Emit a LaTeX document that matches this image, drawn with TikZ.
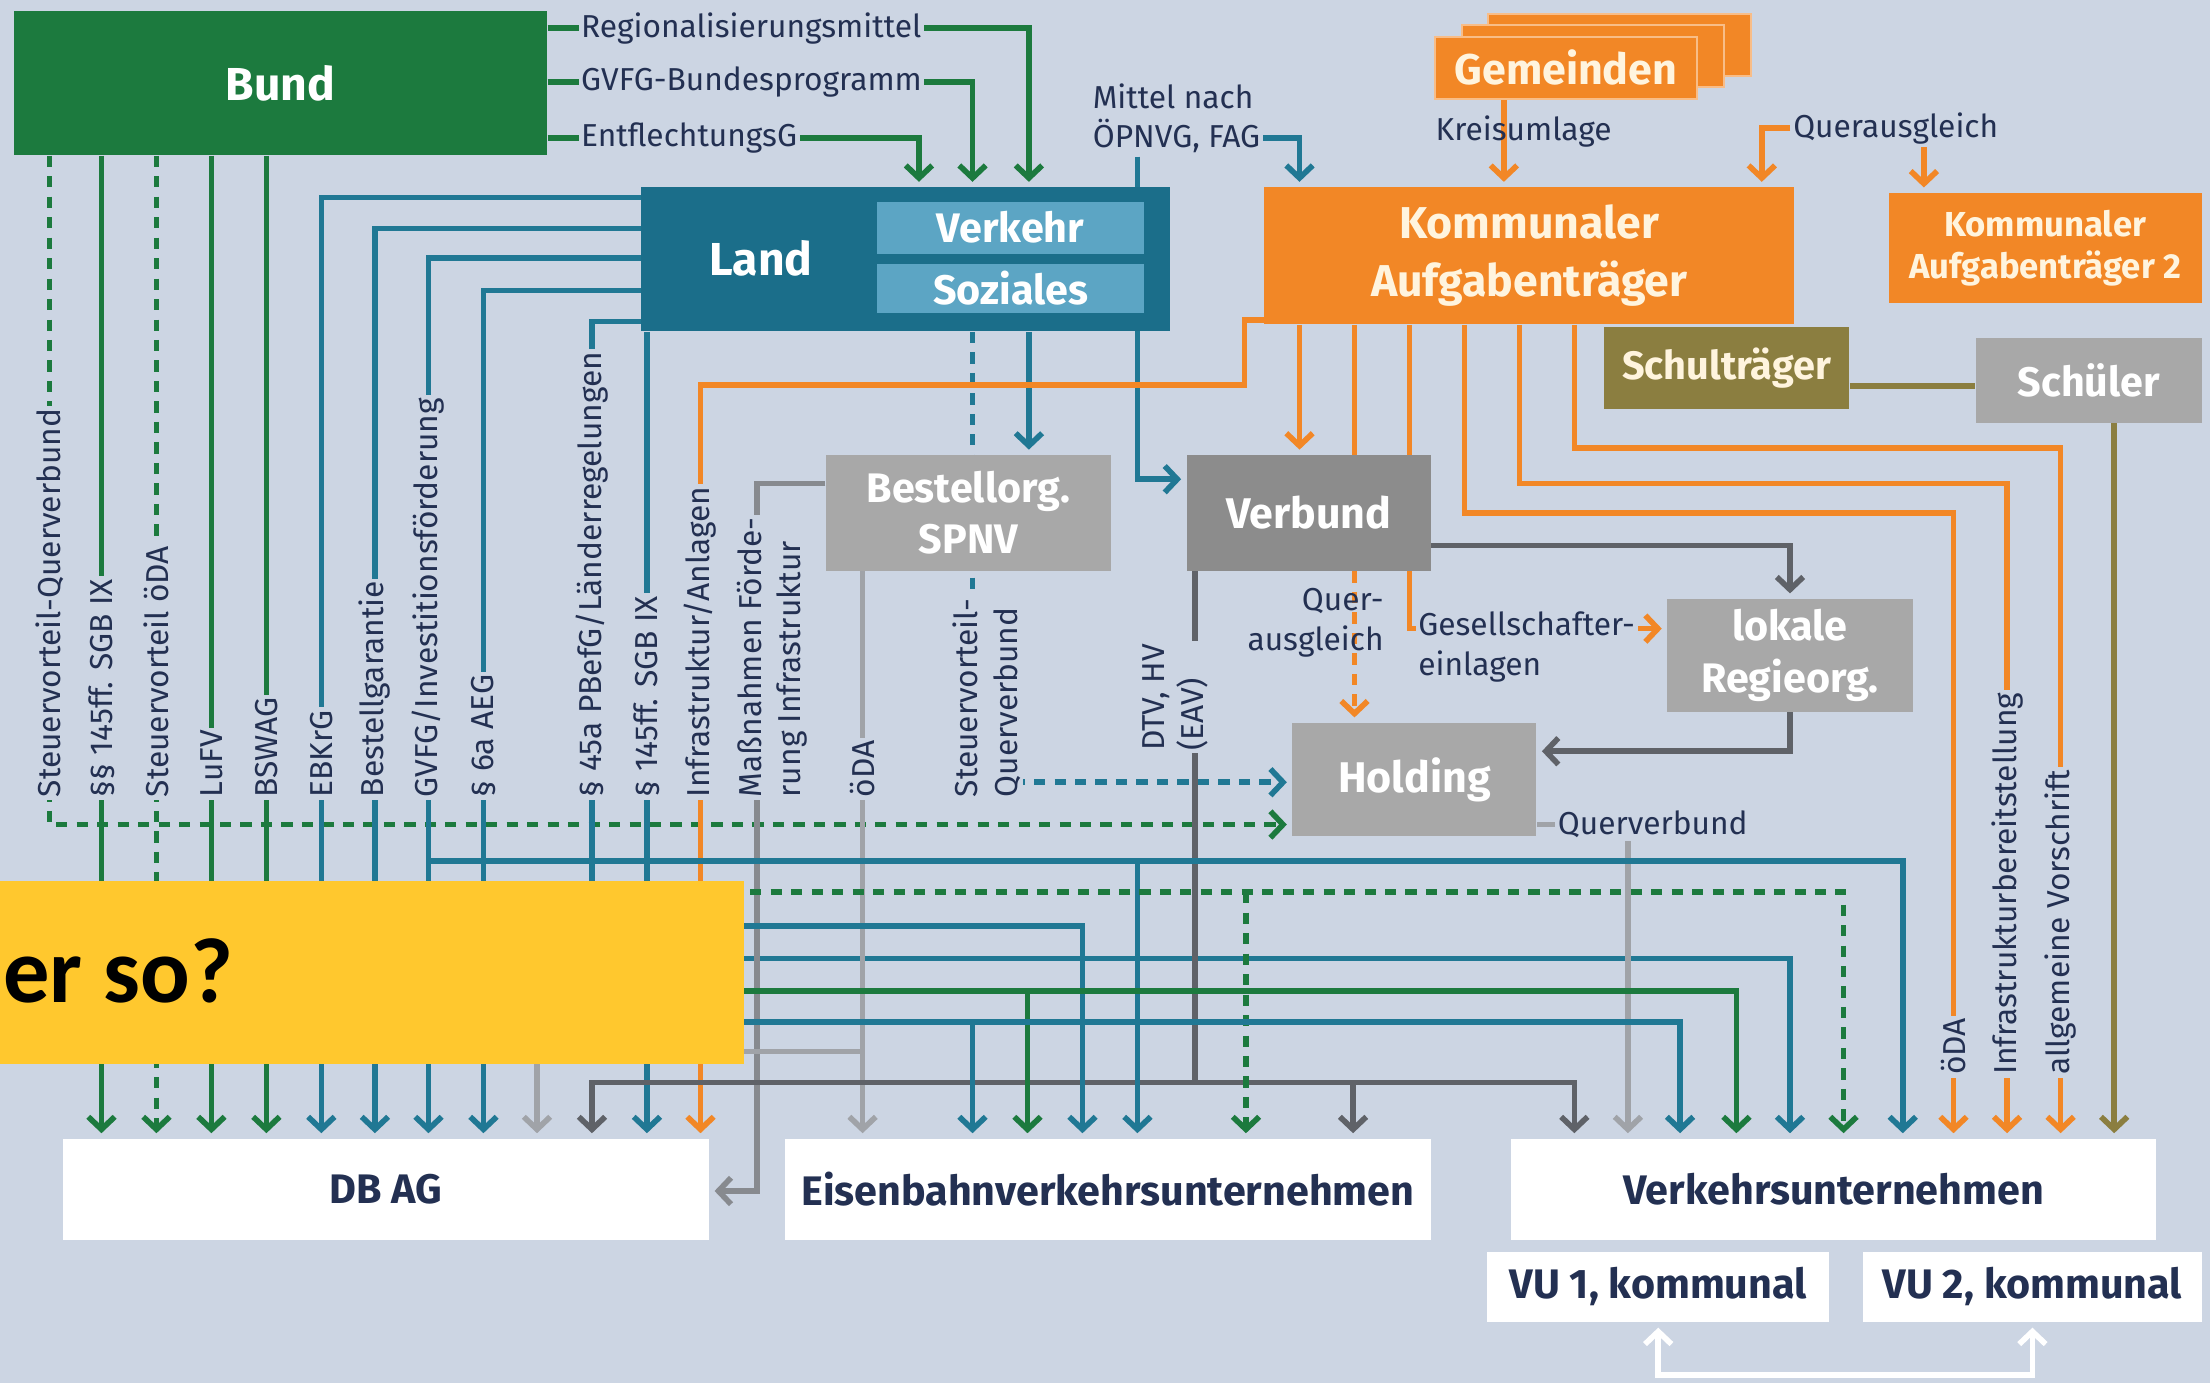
\documentclass[tikz,border=0pt]{standalone}
\usepackage{fontspec}
\setmainfont{Fira Sans}
\newfontfamily\calfont{Carlito}
\usetikzlibrary{arrows.meta}

\definecolor{cbg}{RGB}{204,213,227}
\definecolor{cgreen}{RGB}{28,122,62}
\definecolor{cblue}{RGB}{27,110,138}
\definecolor{cblueln}{RGB}{32,120,148}
\definecolor{clight}{RGB}{92,165,196}
\definecolor{corange}{RGB}{242,135,38}
\definecolor{colive}{RGB}{139,126,64}
\definecolor{cgrey}{RGB}{168,168,168}
\definecolor{cgreyd}{RGB}{140,140,140}
\definecolor{cmgrey}{RGB}{135,138,143}
\definecolor{cdark}{RGB}{95,98,104}
\definecolor{clgrey}{RGB}{160,163,168}
\definecolor{ctext}{RGB}{35,48,82}
\definecolor{cyellow}{RGB}{255,200,46}
\definecolor{ccream}{RGB}{255,244,222}

\pgfdeclarelayer{back}
\pgfdeclarelayer{lines}
\pgfsetlayers{back,lines,main}

\tikzset{
  box/.style={inner sep=0pt, align=center, text=white,
    font=\fontsize{12.5}{15.5}\selectfont\bfseries},
  whitebox/.style={box, fill=white, text=ctext},
  lab/.style={fill=cbg, inner sep=0.8pt, text=ctext,
    font=\fontsize{9.6}{12}\selectfont},
  vlab/.style={lab, rotate=90, anchor=west, align=left},
  ln/.style={line width=1.7pt},
  gl/.style={ln, draw=cgreen},
  bl/.style={ln, draw=cblueln},
  ol/.style={ln, draw=corange},
  dl/.style={ln, draw=cdark},
  ll/.style={ln, draw=clgrey},
  arr/.style={-{Straight Barb[length=3.8pt,width=8pt]}, shorten >=1.5pt},
  arrs/.style={{Straight Barb[length=3.8pt,width=8pt]}-{Straight Barb[length=3.8pt,width=8pt]},
    shorten >=1.5pt, shorten <=1.5pt},
  dsh/.style={dash pattern=on 3.4pt off 2.8pt},
}

\begin{document}
\begin{tikzpicture}[x=0.015cm, y=-0.015cm]
  \useasboundingbox (0,0) rectangle (1568,981);
  \begin{pgfonlayer}{back}
    \fill[cbg] (0,0) rectangle (1568,981);
  \end{pgfonlayer}

  % top boxes
  \node[box, fill=cgreen, minimum width=5.67cm, minimum height=1.53cm,
    font=\fontsize{14}{16}\selectfont\bfseries] (bund) at (199,59) {Bund};
  \node[box, fill=cblue, minimum width=5.625cm, minimum height=1.53cm] (land) at (642.5,184) {};
  \node[box, font=\fontsize{14}{16}\selectfont\bfseries] (landtxt) at (540,183) {Land};
  \node[box, fill=clight, minimum width=2.85cm, minimum height=0.555cm] (verkehr) at (717,161.5) {Verkehr};
  \node[box, fill=clight, minimum width=2.85cm, minimum height=0.525cm] (soziales) at (717,204.5) {Soziales};
  \foreach \s in {2,1}
    \node[box, fill=corange, draw=corange!55!white, line width=0.6pt,
      minimum width=2.79cm, minimum height=0.66cm] (gem\s) at ({1111+19*\s},{48-8*\s}) {};
  \node[box, fill=corange, draw=corange!55!white, line width=0.6pt, text=ccream,
    minimum width=2.79cm, minimum height=0.66cm, font=\fontsize{13}{15}\selectfont\bfseries]
    (gemeinden) at (1111,48) {Gemeinden};
  \node[box, fill=corange, text=ccream, minimum width=5.64cm, minimum height=1.455cm,
    font=\fontsize{13.5}{17.5}\selectfont\bfseries] (kat) at (1085,181.5) {Kommunaler\\Aufgabenträger};
  \node[box, fill=corange, text=ccream, minimum width=3.33cm, minimum height=1.17cm,
    font=\fontsize{10.5}{12.5}\selectfont\bfseries] (kat2) at (1451,176) {Kommunaler\\Aufgabenträger 2};
  \node[box, fill=colive, text=ccream, font=\fontsize{12}{15}\selectfont\bfseries,
    minimum width=2.61cm, minimum height=0.87cm] (schultr) at (1225,261) {Schulträger};
  \node[box, fill=cgrey, minimum width=2.4cm, minimum height=0.9cm] (schueler) at (1482,270) {Schüler};

  % middle boxes
  \node[box, fill=cgrey, minimum width=3.03cm, minimum height=1.23cm] (bestell) at (687,364) {Bestellorg.\\SPNV};
  \node[box, fill=cgreyd, minimum width=2.595cm, minimum height=1.23cm, font=\fontsize{13}{15}\selectfont\bfseries] (verbund) at (928.5,364) {Verbund};
  \node[box, fill=cgrey, minimum width=2.61cm, minimum height=1.2cm] (lokale) at (1270,465) {lokale\\Regieorg.};
  \node[box, fill=cgrey, minimum width=2.595cm, minimum height=1.2cm, font=\fontsize{13}{15}\selectfont\bfseries] (holding) at (1003.5,553) {Holding};

  % bottom boxes
  \node[whitebox, minimum width=6.87cm, minimum height=1.08cm] (dbag) at (274,844) {DB AG};
  \node[whitebox, minimum width=6.87cm, minimum height=1.08cm] (evu) at (786,844) {Eisenbahnverkehrsunternehmen};
  \node[whitebox, minimum width=6.87cm, minimum height=1.08cm] (vu) at (1301,844) {Verkehrsunternehmen};
  \node[whitebox, minimum width=3.645cm, minimum height=0.75cm] (vu1) at (1176.5,913) {VU 1, kommunal};
  \node[whitebox, minimum width=3.6cm, minimum height=0.75cm] (vu2) at (1442,913) {VU 2, kommunal};

  % labels
  \node[lab, anchor=west] (regmittel) at (410,20) {Regionalisierungsmittel};
  \node[lab, anchor=west] (gvfgbund) at (410,58) {GVFG-Bundesprogramm};
  \node[lab, anchor=west] (entfl) at (410,98) {EntflechtungsG};
  \node[lab, anchor=west, align=left] (mittel) at (773,84) {Mittel nach\\ÖPNVG, FAG};
  \node[lab, fill=none] (kreis) at (1081,93) {Kreisumlage};
  \node[lab, anchor=west] (quer) at (1270,91) {Querausgleich};
  \foreach \x/\t in {35/Steuervorteil-Querverbund, 72/§§ 145ff. SGB IX, 111/Steuervorteil öDA,
      150/LuFV, 189/BSWAG, 228/EBKrG, 266/Bestellgarantie, 304/{GVFG/Investitionsförderung},
      343/§ 6a AEG, 420/{§ 45a PBefG/Länderregelungen}, 459/§ 145ff. SGB IX,
      497/{Infrastruktur/Anlagen}, 612/öDA}
    \node[vlab] (lab\x) at (\x,568) {\t};
  \foreach \x/\t in {1386/öDA, 1424/Infrastrukturbereitstellung, 1462/allgemeine Vorschrift}
    \node[vlab] (lab\x) at (\x,765) {\t};
  \node[vlab] (labmass) at (548,568) {Maßnahmen Förde-\\rung Infrastruktur};
  \node[vlab] (labsteuer) at (700,568) {Steuervorteil-\\Querverbund};
  \node[vlab] (labdtv) at (834,535) {DTV, HV\\(EAV)};
  \node[lab, fill=none, align=right, anchor=east] (labquer) at (984,442) {Quer-\\ausgleich};
  \node[lab, align=left, anchor=north west] (labgesell) at (1004,432) {Gesellschafter-\\einlagen};
  \node[lab, anchor=west] (querv) at (1103,585) {Querverbund};

  \begin{pgfonlayer}{lines}
    % Bund
    \draw[gl, arr] (bund.east |- 0,20) -- (730,20) -- (730,0 |- land.north);
    \draw[gl, arr] (bund.east |- 0,58) -- (690,58) -- (690,0 |- land.north);
    \draw[gl, arr] (bund.east |- 0,98) -- (652,98) -- (652,0 |- land.north);
    \draw[gl, dsh, arr] (35,0 |- bund.south) -- (35,585) -- (holding.west |- 0,585);
    \foreach \x in {72,150,189}
      \draw[gl, arr] (\x,0 |- bund.south) -- (\x,0 |- dbag.north);
    \draw[gl, dsh, arr] (111,0 |- bund.south) -- (111,0 |- dbag.north);
    % Land
    \foreach \x/\y in {228/140,266/162,304/183,343/206}
      \draw[bl, arr] (land.west |- 0,\y) -- (\x,\y) -- (\x,0 |- dbag.north);
    \draw[bl, arr] (land.west |- 0,228) -- (420,228) -- (420,680) -| (1270,0 |- vu.north);
    \draw[bl, arr] (459,0 |- land.south) -- (459,0 |- dbag.north);
    \draw[bl, arr] (730,0 |- land.south) -- (730,0 |- bestell.north);
    \draw[bl, dsh, arr] (690,0 |- land.south) -- (690,555) -- (holding.west |- 0,555);
    \draw[bl, arr] (807,0 |- mittel.south) -- (807,340) -- (verbund.west |- 0,340);
    \draw[bl, arr] (mittel.east |- 0,98) -- (922,98) -- (922,0 |- kat.north);
    % Gemeinden, Querausgleich
    \draw[ol, arr] (1067,0 |- gemeinden.south) -- (1067,0 |- kat.north);
    \draw[ol, arr] (quer.west) -- (1250,0 |- quer.west) -- (1250,0 |- kat.north);
    \draw[ol, arr] (quer.south -| 1365,0) -- (1365,0 |- kat2.north);
    % Kommunaler Aufgabentraeger
    \draw[ol, arr] (kat.west |- 0,227) -- (883,227) -- (883,273) -- (497,273) -- (497,0 |- dbag.north);
    \draw[ol, arr] (922,0 |- kat.south) -- (922,0 |- verbund.north);
    \draw[ol] (961,0 |- kat.south) -- (961,0 |- verbund.north);
    \draw[ol, dsh, arr] (961,0 |- verbund.south) -- (961,0 |- holding.north);
    \draw[ol, arr] (1000,0 |- kat.south) -- (1000,446) -- (lokale.west |- 0,446);
    \foreach \x/\y/\z in {1039/364/1386, 1078/343/1424, 1117/318/1462}
      \draw[ol, arr] (\x,0 |- kat.south) -- (\x,\y) -- (\z,\y) -- (\z,0 |- vu.north);
    % Schultraeger, Schueler
    \draw[ln, draw=colive] (schultr.east |- 0,274) -- (schueler.west |- 0,274);
    \draw[ln, draw=colive, arr] (1500,0 |- schueler.south) -- (1500,0 |- vu.north);
    % Bestellorg.
    \draw[ln, draw=cmgrey, arr] (bestell.west |- 0,343) -- (537,343) -- (537,845) -- (dbag.east |- 0,845);
    \draw[ll, arr] (612,0 |- bestell.south) -- (612,0 |- evu.north);
    \draw[ll, arr] (612,746) -- (381,746) -- (381,0 |- dbag.north);
    % Verbund
    \draw[dl] (848,0 |- verbund.south) -- (848,768);
    \draw[dl, arr] (848,768) -| (420,0 |- dbag.north);
    \draw[dl, arr] (848,768) -| (1117,0 |- vu.north);
    \draw[dl, arr] (960,768) -- (960,0 |- evu.north);
    \draw[dl, arr] (verbund.east |- 0,387) -| (lokale.north);
    \draw[dl, arr] (lokale.south) |- (holding.east |- 0,533);
    % Holding
    \draw[ll] (holding.east |- 0,585) -- (querv.west);
    \draw[ll, arr] (querv.south -| 1155,0) -- (1155,0 |- vu.north);
    % lower band
    \draw[bl, arr] (304,611) -| (1350,0 |- vu.north);
    \draw[bl, arr] (807,611) -- (807,0 |- evu.north);
    \draw[gl, dsh, arr] (111,633) -| (1308,0 |- vu.north);
    \draw[gl, dsh, arr] (884,633) -- (884,0 |- evu.north);
    \draw[bl, arr] (266,657) -| (768,0 |- evu.north);
    \draw[gl, arr] (72,703) -| (1232,0 |- vu.north);
    \draw[gl, arr] (729,703) -- (729,0 |- evu.north);
    \draw[bl, arr] (459,725) -| (1192,0 |- vu.north);
    \draw[bl, arr] (690,725) -- (690,0 |- evu.north);
    % VU 1 / VU 2
    \draw[ln, draw=white, arrs] (vu1.south) -- ++(0,37) -| (vu2.south);
  \end{pgfonlayer}

  % overlay
  \node[fill=cyellow, minimum width=7.92cm, minimum height=1.95cm, inner sep=0pt] (yellow) at (264,690) {};
  \node[inner sep=0pt, anchor=west, font=\calfont\fontsize{28}{28}\selectfont\bfseries] (soq) at (2,689) {er so?};
\end{tikzpicture}
\end{document}
